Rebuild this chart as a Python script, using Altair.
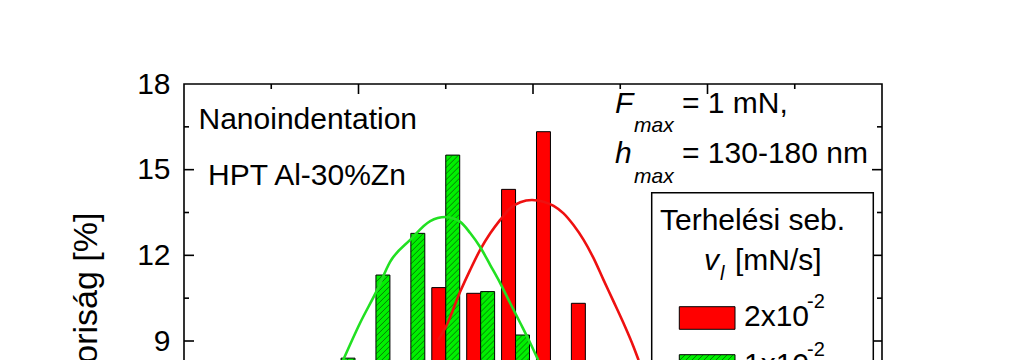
import altair as alt
import pandas as pd

FONT = "Liberation Sans"

# ---------------- data ----------------
# x axis (hardness-like scale, bins of 0.2, ticks every 0.5)
red_bin_centers = [1.5, 1.7, 1.9, 2.1, 2.3]
red_pct = [10.87, 10.67, 14.31, 16.33, 10.32]

green_bin_centers = [0.9, 1.1, 1.3, 1.5, 1.7, 1.9]
green_pct = [8.40, 11.31, 12.77, 15.51, 10.73, 9.21]

# fitted curves, points
green_fit_x = [0.912, 1.009, 1.107, 1.181, 1.296, 1.411, 1.497, 1.583, 1.640,
               1.697, 1.755, 1.812, 1.869, 1.927, 1.984, 2.030]
green_fit_y = [8.33, 9.63, 10.79, 11.77, 12.54, 13.20, 13.34, 13.17, 12.78,
               12.29, 11.66, 11.03, 10.33, 9.63, 8.93, 8.33]

red_fit_x = [1.456, 1.501, 1.583, 1.640, 1.697, 1.755, 1.812, 1.869, 1.927,
             1.994, 2.060, 2.118, 2.175, 2.232, 2.290, 2.347, 2.404, 2.462,
             2.519, 2.576, 2.605]
red_fit_y = [9.04, 9.50, 10.73, 11.49, 12.19, 12.77, 13.24, 13.65, 13.86,
             13.94, 13.88, 13.73, 13.47, 13.06, 12.54, 11.90, 11.14, 10.38,
             9.62, 8.80, 8.33]

y_tick_labels = [0, 3, 6, 9, 12, 15, 18]
y_minor = [1.5, 4.5, 7.5, 10.5, 13.5, 16.5]
x_tick_labels = [0, 1, 2, 3, 4]
x_major = [1, 2, 3]
x_minor = [0.5, 1.5, 2.5, 3.5]
y_title = "Gyakoriság [%]"

# ---------------- layout / style ----------------
W, H = 698, 514
X_DOM = [0.0, 4.0]
Y_DOM = [0.0, 18.0]
BAR_W = 0.08
RED = "#FF0000"
GREEN = "#00F000"
RED_LINE = "#EE1010"
GREEN_LINE = "#22E022"

xs = alt.Scale(domain=X_DOM, nice=False, zero=False)
ys = alt.Scale(domain=Y_DOM, nice=False, zero=False)

AX_X = alt.Axis(values=x_tick_labels, ticks=False, domain=False, grid=False,
                labelFontSize=30, labelFont=FONT, labelColor="black", labelPadding=14)
AX_Y = alt.Axis(values=y_tick_labels, ticks=False, domain=False, grid=False,
                labelFontSize=30, labelFont=FONT, labelColor="black", labelPadding=14,
                titleFont=FONT, titleFontSize=34, titleFontWeight="normal",
                titleColor="black", titleAngle=270, titleAlign="right",
                titleBaseline="alphabetic", titleX=-88, titleY=128)


def X(f):
    return alt.X(f, scale=xs, axis=AX_X, title="")


def Y(f):
    return alt.Y(f, scale=ys, axis=AX_Y, title=y_title)


red_df = pd.DataFrame({
    "x0": [c - BAR_W for c in red_bin_centers],
    "x1": red_bin_centers,
    "p": red_pct,
})
green_df = pd.DataFrame({
    "x0": green_bin_centers,
    "x1": [c + BAR_W for c in green_bin_centers],
    "p": green_pct,
})

# hatch lines (///) inside the green bars, built from the bar extents
px_x = W / (X_DOM[1] - X_DOM[0])
px_y = H / (Y_DOM[1] - Y_DOM[0])
slope = px_x / px_y
step = 6.0 / px_y
rows = []
for x0, x1, h in zip(green_df.x0, green_df.x1, green_df.p):
    b = -(x1 - x0) * slope
    while b < h:
        xa, ya = x0, b
        if ya < 0:
            xa, ya = x0 + (-b) / slope, 0.0
        xb, yb = x1, b + (x1 - x0) * slope
        if yb > h:
            xb, yb = x0 + (h - b) / slope, h
        if xb > xa:
            rows.append({"x0": xa, "x1": xb, "p": ya, "p2": yb})
        b += step
hatch_df = pd.DataFrame(rows)

red_bars = alt.Chart(red_df).mark_bar(fill=RED, stroke="black", strokeWidth=1).encode(
    x=X("x0:Q"), x2="x1:Q", y=Y("p:Q"), y2=alt.datum(0))

green_bars = alt.Chart(green_df).mark_bar(fill=GREEN, stroke="black", strokeWidth=1).encode(
    x=X("x0:Q"), x2="x1:Q", y=Y("p:Q"), y2=alt.datum(0))

hatch = alt.Chart(hatch_df).mark_rule(color="#0a3a0a", strokeWidth=0.8, opacity=0.8).encode(
    x=X("x0:Q"), x2="x1:Q", y=Y("p:Q"), y2="p2:Q")

green_line = alt.Chart(pd.DataFrame({"x0": green_fit_x, "p": green_fit_y})).mark_line(
    color=GREEN_LINE, strokeWidth=2.6, interpolate="monotone").encode(
    x=X("x0:Q"), y=Y("p:Q"))
red_line = alt.Chart(pd.DataFrame({"x0": red_fit_x, "p": red_fit_y})).mark_line(
    color=RED_LINE, strokeWidth=2.6, interpolate="monotone").encode(
    x=X("x0:Q"), y=Y("p:Q"))

# inward ticks
TL_MAJ, TL_MIN = 10, 5
tick_layers = []
ymaj = alt.Chart(pd.DataFrame({"p": y_tick_labels[1:-1]}))
ymin = alt.Chart(pd.DataFrame({"p": y_minor}))
xmaj = alt.Chart(pd.DataFrame({"x0": x_major}))
xmin = alt.Chart(pd.DataFrame({"x0": x_minor}))
tk = dict(color="black", strokeWidth=1.6)
for ch, L in ((ymaj, TL_MAJ), (ymin, TL_MIN)):
    tick_layers.append(ch.mark_rule(**tk).encode(y=Y("p:Q"), x=alt.value(0), x2=alt.value(L)))
    tick_layers.append(ch.mark_rule(**tk).encode(y=Y("p:Q"), x=alt.value(W - L), x2=alt.value(W)))
for ch, L in ((xmaj, TL_MAJ), (xmin, TL_MIN)):
    tick_layers.append(ch.mark_rule(**tk).encode(x=X("x0:Q"), y=alt.value(0), y2=alt.value(L)))
    tick_layers.append(ch.mark_rule(**tk).encode(x=X("x0:Q"), y=alt.value(H - L), y2=alt.value(H)))


def txt(s, x, y, size=30, style="normal"):
    return alt.Chart(pd.DataFrame({"t": [s]})).mark_text(
        align="left", baseline="alphabetic", font=FONT, fontSize=size,
        fontStyle=style, color="black").encode(
        x=alt.value(x), y=alt.value(y), text="t:N")


def box(x, x2, y, y2, **kw):
    return alt.Chart(pd.DataFrame({"t": [0]})).mark_rect(**kw).encode(
        x=alt.value(x), x2=alt.value(x2), y=alt.value(y), y2=alt.value(y2))


def seg(x, x2, y, y2, **kw):
    return alt.Chart(pd.DataFrame({"t": [0]})).mark_rule(**kw).encode(
        x=alt.value(x), x2=alt.value(x2), y=alt.value(y), y2=alt.value(y2))


annotations = [
    txt("Nanoindentation", 14.5, 45.3),
    txt("HPT Al-30%Zn", 24, 101),
    txt("F", 431, 29.3, style="italic"),
    txt("max", 450, 47.7, size=21, style="italic"),
    txt("= 1 mN,", 498, 29.3),
    txt("h", 431, 79.3, style="italic"),
    txt("max", 450, 99.3, size=21, style="italic"),
    txt("= 130-180 nm", 498, 79.3),
]

legend = [
    box(467.7, 689.3, 108.7, 330, fill="white", stroke="black", strokeWidth=1.5),
    txt("Terhelési seb.", 476, 146),
    txt("v", 520, 186, style="italic"),
    txt("l", 536, 196, size=20, style="italic"),
    txt("[mN/s]", 551, 186),
    box(495.3, 551, 222.7, 245.3, fill=RED, stroke="black", strokeWidth=1),
    txt("2x10", 560, 242),
    txt("-2", 623, 223.6, size=20),
    box(495.3, 551, 270.7, 293.3, fill=GREEN, stroke="black", strokeWidth=1),
    txt("1x10", 560, 290),
    txt("-2", 623, 271.6, size=20),
]
for k in range(0, 80, 6):
    xa = 495.3 + k - 22.6
    xb = xa + 22.6
    ya, yb = 293.3, 270.7
    if xa < 495.3:
        ya = 293.3 - (495.3 - xa)
        xa = 495.3
    if xb > 551:
        yb = 270.7 + (xb - 551)
        xb = 551
    if xb > xa:
        legend.append(seg(xa, xb, ya, yb, color="#0a3a0a", strokeWidth=0.8, opacity=0.8))

chart = alt.layer(red_bars, green_bars, hatch, red_line, green_line,
                  *tick_layers, *annotations, *legend).properties(
    width=W, height=H,
    background="white",
    autosize=alt.AutoSizeParams(type="none"),
    padding={"left": 176, "top": 76, "right": 40, "bottom": 80},
).configure_view(stroke="black", strokeWidth=1.6)

chart.save("out.html", embed_options={"renderer": "svg", "actions": False})
